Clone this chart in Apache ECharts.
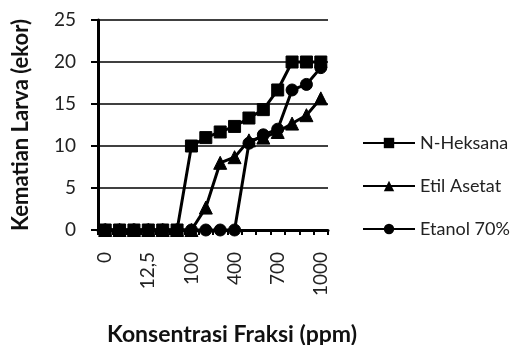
<!DOCTYPE html>
<html>
<head>
<meta charset="utf-8">
<script src="https://cdn.jsdelivr.net/npm/echarts@6/dist/echarts.min.js"></script>
<style>
  html, body { margin: 0; padding: 0; background: #fff; }
  #chart { width: 532px; height: 345px; }
</style>
</head>
<body>
<div id="chart"></div>
<script>
// Fraction concentrations (ppm), decimal comma as printed on the axis
const concentrations = ['0', '3,125', '6,25', '12,5', '25', '50', '100', '200', '300', '400', '500', '600', '700', '800', '900', '1000'];

// Larval mortality (ekor) per fraction
const nHeksana   = [0, 0, 0, 0, 0, 0, 10, 11, 11.67, 12.33, 13.33, 14.33, 16.67, 20, 20, 20];
const etilAsetat = [0, 0, 0, 0, 0, 0, 0, 2.67, 8, 8.67, 10.67, 11, 11.67, 12.67, 13.67, 15.67];
const etanol70   = [0, 0, 0, 0, 0, 0, 0, 0, 0, 0, 10.33, 11.33, 12, 16.67, 17.33, 19.33];

const yTicks = { min: 0, max: 25, interval: 5 };

const FONT = 'Lato';
const INK = '#000';

function lineSeries(name, data, symbol, size) {
  return {
    name: name,
    type: 'line',
    data: data,
    symbol: symbol,
    symbolSize: size,
    showAllSymbol: true,
    lineStyle: { color: INK, width: 3 },
    itemStyle: { color: INK, borderColor: INK },
    emphasis: { disabled: true }
  };
}

const chart = echarts.init(document.getElementById('chart'), null, { renderer: 'canvas' });

chart.setOption({
  animation: false,
  backgroundColor: '#fff',
  grid: { left: 98, right: 204, top: 20, bottom: 115, containLabel: false, outerBoundsMode: 'none' },
  xAxis: {
    type: 'category',
    data: concentrations,
    boundaryGap: true,
    name: 'Konsentrasi Fraksi (ppm)',
    nameLocation: 'middle',
    nameGap: 93,
    nameTextStyle: { fontFamily: FONT, fontWeight: 'bold', fontSize: 23, color: '#111', padding: [0, 0, 0, 38] },
    axisLine: { lineStyle: { color: INK, width: 3 } },
    axisTick: { show: true, interval: 0, length: 5, lineStyle: { color: INK, width: 2 } },
    axisLabel: {
      interval: 2,
      rotate: 90,
      margin: 22,
      fontFamily: FONT,
      fontSize: 19,
      color: '#222'
    },
    splitLine: { show: false }
  },
  yAxis: {
    type: 'value',
    min: yTicks.min,
    max: yTicks.max,
    interval: yTicks.interval,
    name: 'Kematian Larva (ekor)',
    nameLocation: 'middle',
    nameGap: 66,
    nameRotate: 90,
    nameTextStyle: { fontFamily: FONT, fontWeight: 'bold', fontSize: 22, color: '#111' },
    axisLine: { show: true, lineStyle: { color: INK, width: 3 } },
    axisTick: { show: true, length: 7, lineStyle: { color: INK, width: 2 } },
    axisLabel: { margin: 22, fontFamily: FONT, fontSize: 19, color: '#222' },
    splitLine: { show: true, lineStyle: { color: INK, width: 1.5 } }
  },
  legend: {
    orient: 'vertical',
    left: 362,
    top: 134,
    padding: 0,
    itemWidth: 52,
    itemHeight: 13,
    itemGap: 25,
    textStyle: { fontFamily: FONT, fontSize: 18, color: '#222' },
    data: ['N-Heksana', 'Etil Asetat', 'Etanol 70%']
  },
  series: [
    lineSeries('N-Heksana', nHeksana, 'rect', 12),
    lineSeries('Etil Asetat', etilAsetat, 'triangle', 13),
    lineSeries('Etanol 70%', etanol70, 'circle', 12)
  ]
});
</script>
</body>
</html>
